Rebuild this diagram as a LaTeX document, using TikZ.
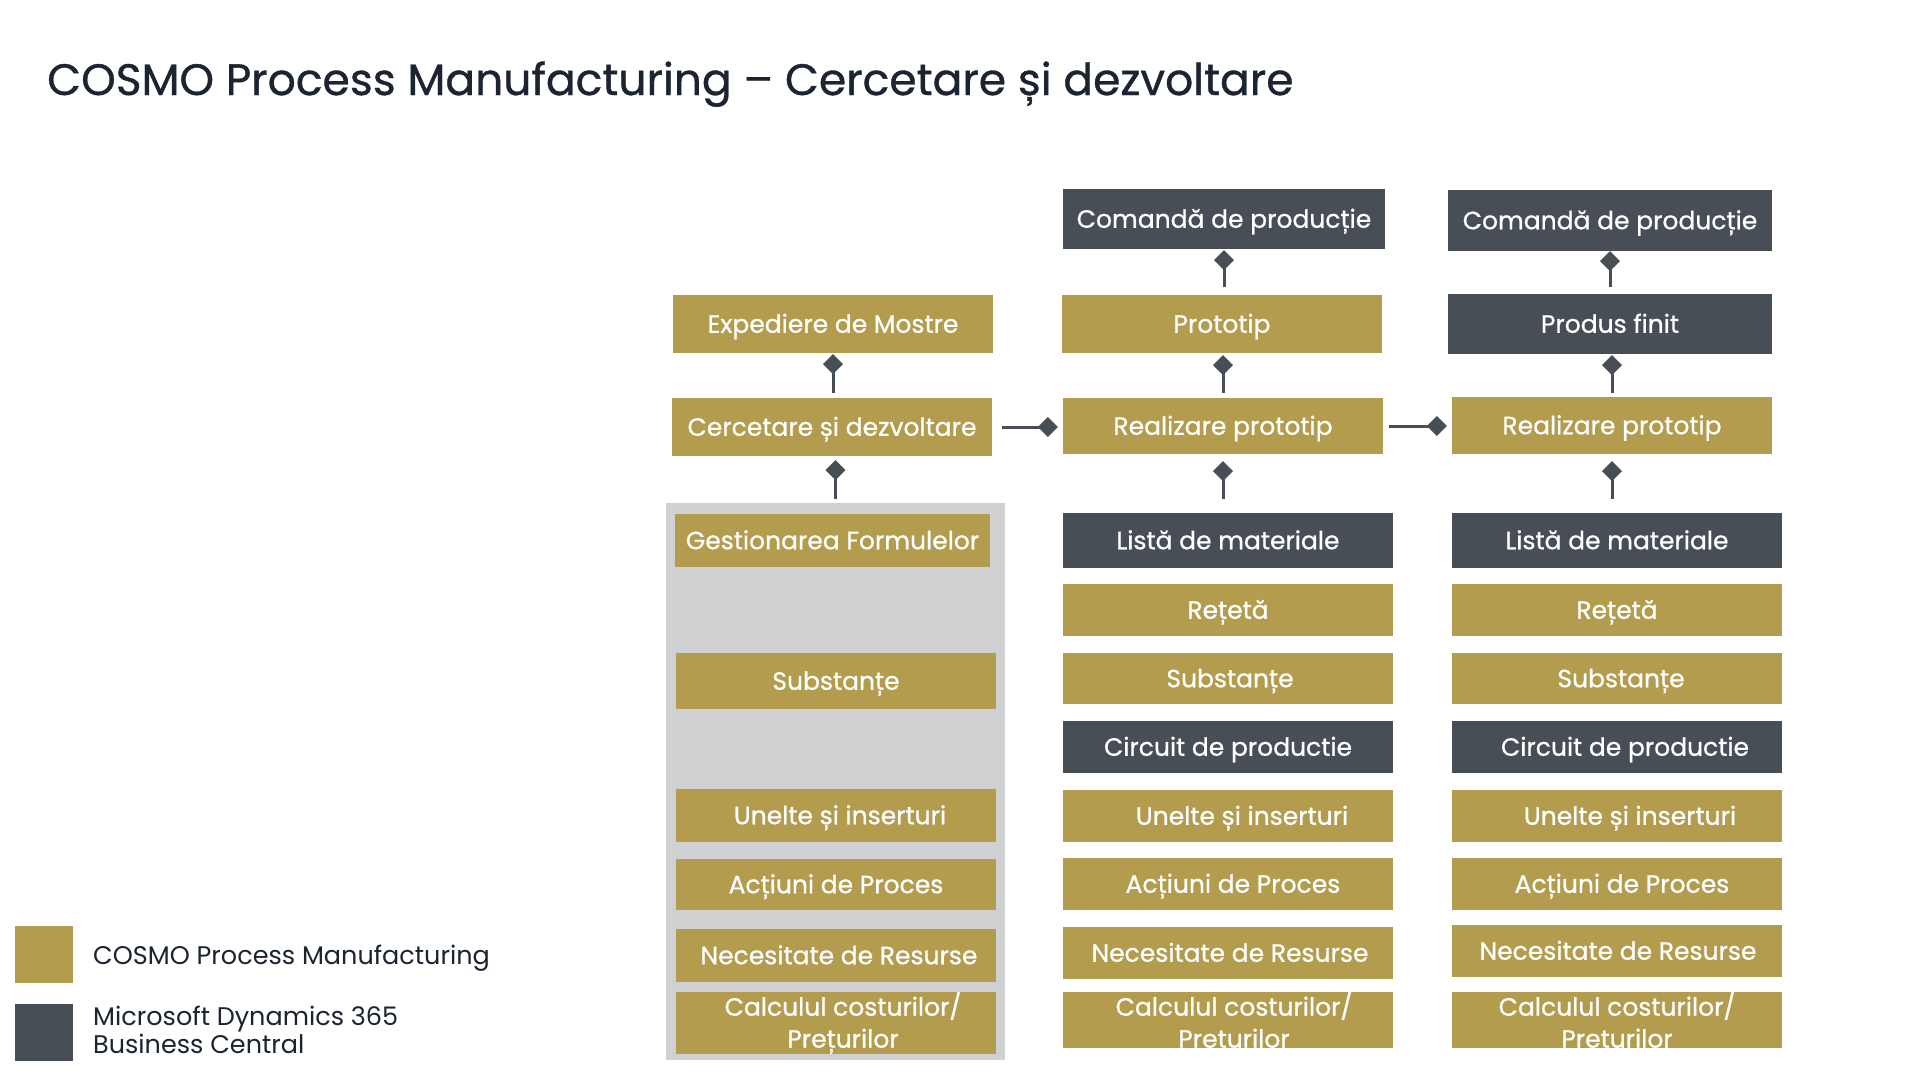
\documentclass[tikz,border=0pt]{standalone}
\usepackage{fontspec}
\setmainfont{Poppins}
\newfontfamily\medfont{Poppins}[BoldFont={Poppins}, BoldFeatures={FakeBold=0.8}]
\usetikzlibrary{arrows.meta}
\definecolor{gold}{HTML}{B39C4D}
\definecolor{slate}{HTML}{474E56}
\definecolor{panelgray}{HTML}{D0D1D3}
\definecolor{ink}{HTML}{1C2331}
\begin{document}
\begin{tikzpicture}[x=1pt,y=-1pt,
  boxbase/.style={rectangle, inner sep=0pt, text=white, font=\medfont\bfseries\fontsize{25}{32}\selectfont, align=center},
  oneline/.style={boxbase, text height=23.5pt, text depth=6pt},
  goldbox/.style={oneline, fill=gold},
  slatebox/.style={oneline, fill=slate},
  goldtwo/.style={boxbase, fill=gold},
  conn/.style={draw=slate, line width=3pt, -{Diamond[length=20pt,width=20pt]}},
  legsq/.style={minimum width=58pt, minimum height=57pt, inner sep=0pt},
  legtext/.style={anchor=base west, text=ink, inner sep=0pt, font=\fontsize{25.5}{28}\selectfont, align=left},
]
\useasboundingbox[fill=white] (0,0) rectangle (1920,1080);

\node[anchor=base west, text=ink, inner sep=0pt, font=\medfont\bfseries\fontsize{44}{50}\selectfont] (title) at (47,95) {COSMO Process Manufacturing – Cercetare și dezvoltare};

% column 1
\node[goldbox, minimum width=320pt, minimum height=58pt] (exp) at (833,324) {Expediere de Mostre};
\node[goldbox, minimum width=320pt, minimum height=58pt] (cerc) at (832,427) {Cercetare și dezvoltare};
\node[fill=panelgray, minimum width=339pt, minimum height=557pt, inner sep=0pt] (panel) at (835.5,781.5) {};
\node[goldbox, minimum width=315pt, minimum height=53pt] (gest) at (832.5,540.5) {Gestionarea Formulelor};
\node[goldbox, minimum width=320pt, minimum height=56pt] (suba) at (836,681) {Substanțe};
\node[goldbox, minimum width=320pt, minimum height=53pt] (unela) at (836,815.5) {\hspace*{8pt}Unelte și inserturi};
\node[goldbox, minimum width=320pt, minimum height=51pt] (acta) at (836,884.5) {Acțiuni de Proces};
\node[goldbox, minimum width=320pt, minimum height=53pt] (neca) at (836,955.5) {\hspace*{6pt}Necesitate de Resurse};
\node[goldtwo, minimum width=320pt, minimum height=56pt] (calca) at (836,1023) {\hspace*{14pt}Calculul costurilor/\\\hspace*{14pt}Prețurilor};

% column 2
\node[slatebox, minimum width=322pt, minimum height=60pt] (comb) at (1224,219) {Comandă de producție};
\node[goldbox, minimum width=320pt, minimum height=58pt] (proto) at (1222,324) {Prototip};
\node[goldbox, minimum width=320pt, minimum height=56pt] (realb) at (1223,426) {Realizare prototip};
\node[slatebox, minimum width=330pt, minimum height=55pt] (listb) at (1228,540.5) {Listă de materiale};
\node[goldbox, minimum width=330pt, minimum height=52pt] (retb) at (1228,610) {Rețetă};
\node[goldbox, minimum width=330pt, minimum height=51pt] (subb) at (1228,678.5) {\hspace*{4pt}Substanțe};
\node[slatebox, minimum width=330pt, minimum height=52pt] (circb) at (1228,747) {Circuit de productie};
\node[goldbox, minimum width=330pt, minimum height=52pt] (unelb) at (1228,816) {\hspace*{28pt}Unelte și inserturi};
\node[goldbox, minimum width=330pt, minimum height=52pt] (actb) at (1228,884) {\hspace*{10pt}Acțiuni de Proces};
\node[goldbox, minimum width=330pt, minimum height=52pt] (necb) at (1228,953) {\hspace*{4pt}Necesitate de Resurse};
\node[goldtwo, minimum width=330pt, minimum height=54pt] (calcb) at (1228,1020) {\hspace*{12pt}Calculul costurilor/\\\hspace*{12pt}Preturilor};

% column 3
\node[slatebox, minimum width=324pt, minimum height=61pt] (comc) at (1610,220.5) {Comandă de producție};
\node[slatebox, minimum width=324pt, minimum height=60pt] (prodc) at (1610,324) {Produs finit};
\node[goldbox, minimum width=320pt, minimum height=57pt] (realc) at (1612,425.5) {Realizare prototip};
\node[slatebox, minimum width=330pt, minimum height=55pt] (listc) at (1617,540.5) {Listă de materiale};
\node[goldbox, minimum width=330pt, minimum height=52pt] (retc) at (1617,610) {Rețetă};
\node[goldbox, minimum width=330pt, minimum height=51pt] (subc) at (1617,678.5) {\hspace*{8pt}Substanțe};
\node[slatebox, minimum width=330pt, minimum height=52pt] (circc) at (1617,747) {\hspace*{16pt}Circuit de productie};
\node[goldbox, minimum width=330pt, minimum height=52pt] (unelc) at (1617,816) {\hspace*{26pt}Unelte și inserturi};
\node[goldbox, minimum width=330pt, minimum height=52pt] (actc) at (1617,884) {\hspace*{10pt}Acțiuni de Proces};
\node[goldbox, minimum width=330pt, minimum height=52pt] (necc) at (1617,951) {\hspace*{2pt}Necesitate de Resurse};
\node[goldtwo, minimum width=330pt, minimum height=54pt] (calcc) at (1617,1020) {Calculul costurilor/\\Preturilor};

% connectors
\draw[conn, shorten <=5pt, shorten >=1pt] (exp.south |- cerc.north) -- (exp.south);
\draw[conn, shorten <=4pt, shorten >=4pt] (panel.north) -- (panel.north |- cerc.south);
\draw[conn, shorten <=8pt, shorten >=1pt] (comb.south |- proto.north) -- (comb.south);
\draw[conn, shorten <=5pt, shorten >=2pt] (realb.north) -- (realb.north |- proto.south);
\draw[conn, shorten <=14pt, shorten >=7pt] (realb.south |- listb.north) -- (realb.south);
\draw[conn, shorten <=7pt, shorten >=0pt] (comc.south |- prodc.north) -- (comc.south);
\draw[conn, shorten <=4pt, shorten >=1pt] (realc.north) -- (realc.north |- prodc.south);
\draw[conn, shorten <=14pt, shorten >=7pt] (realc.south |- listc.north) -- (realc.south);
\draw[conn, shorten <=10pt, shorten >=5pt] (cerc.east) -- (cerc.east -| realb.west);
\draw[conn, shorten <=6pt, shorten >=5pt] (realb.east) -- (realb.east -| realc.west);

% legend
\node[legsq, fill=gold] (leggold) at (44,954.5) {};
\node[legsq, fill=slate] (legslate) at (44,1032) {};
\node[legtext] (legcosmo) at (93,964) {COSMO Process Manufacturing};
\node[legtext] (legms) at (93,1053) {Microsoft Dynamics 365\\Business Central};
\end{tikzpicture}
\end{document}
